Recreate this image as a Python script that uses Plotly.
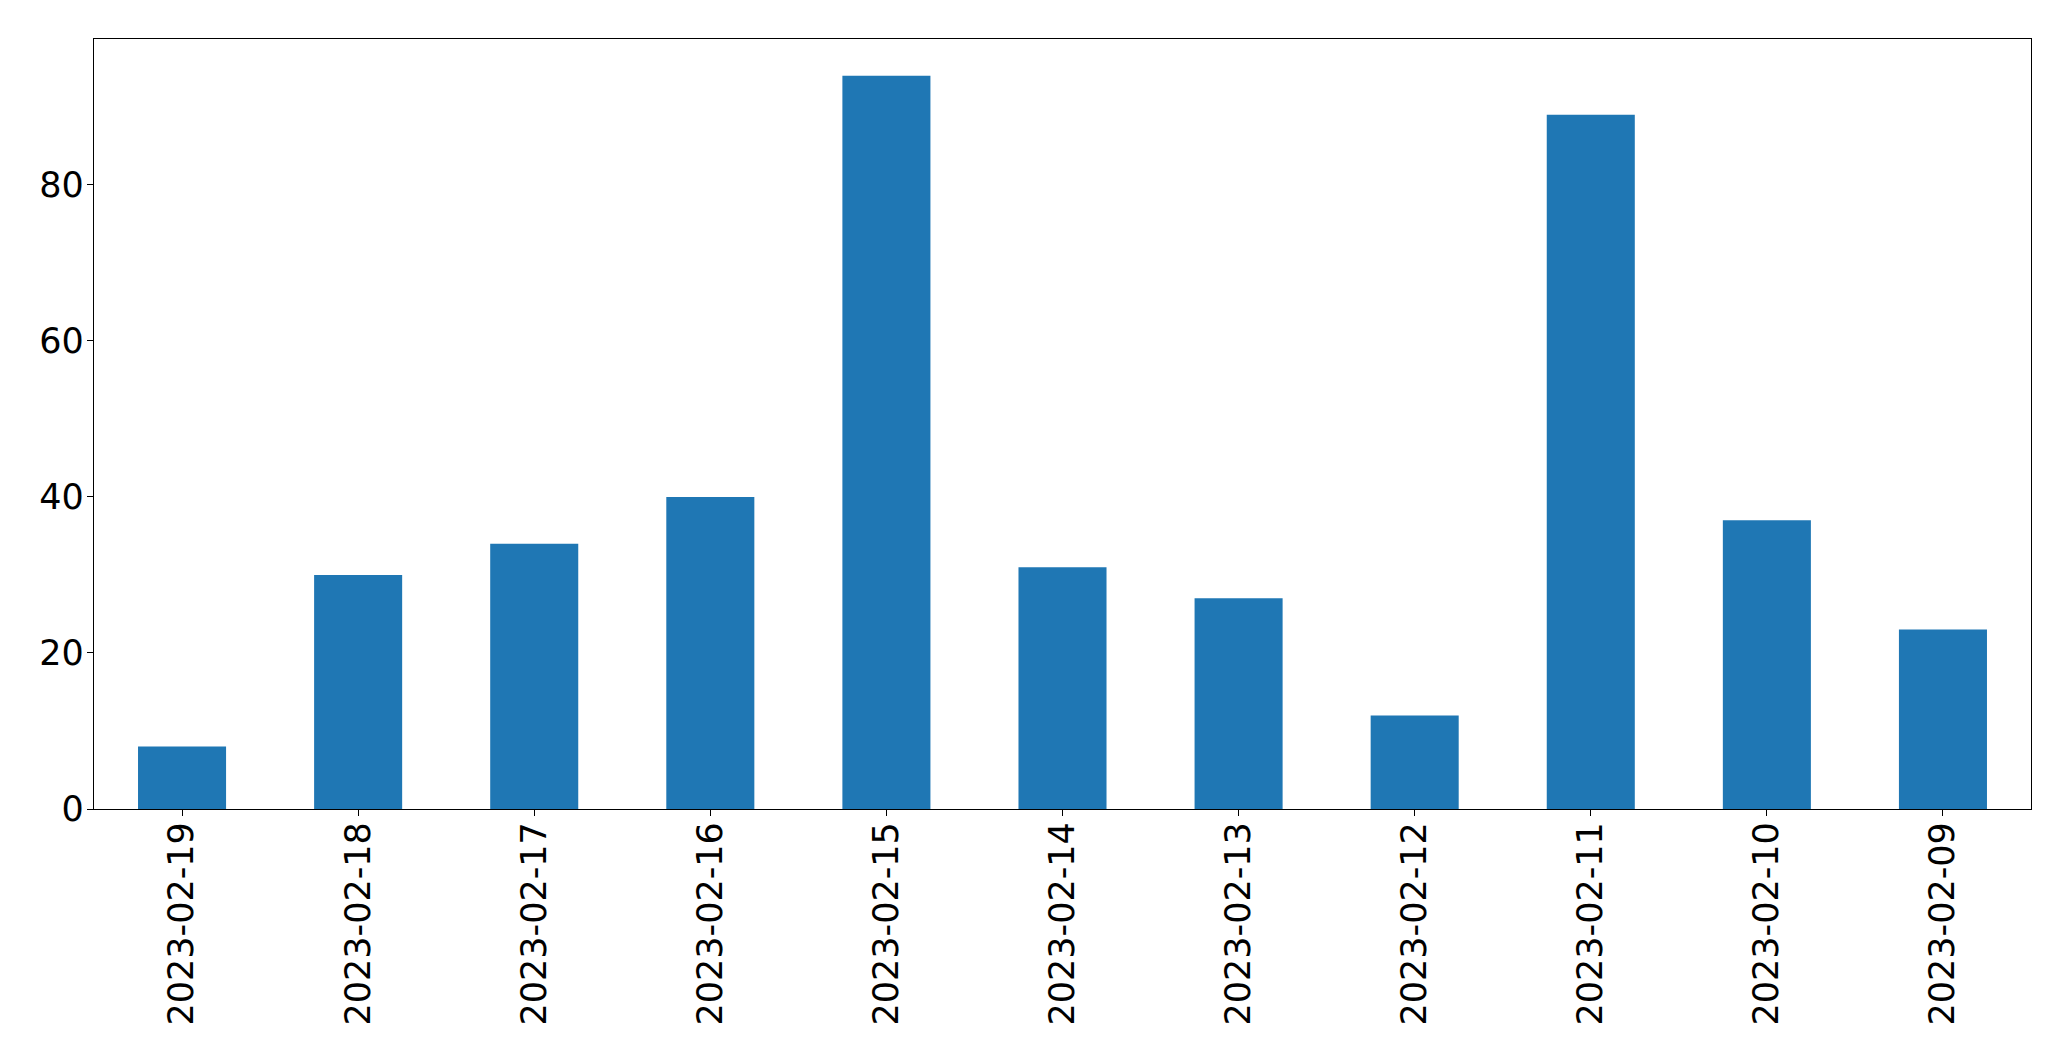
import plotly.graph_objects as go

dates = ["2023-02-19", "2023-02-18", "2023-02-17", "2023-02-16", "2023-02-15",
         "2023-02-14", "2023-02-13", "2023-02-12", "2023-02-11", "2023-02-10",
         "2023-02-09"]
values = [8, 30, 34, 40, 94, 31, 27, 12, 89, 37, 23]
y_ticks = [0, 20, 40, 60, 80]

fig = go.Figure(go.Bar(x=dates, y=values, width=0.5, marker_color="#1f77b4",
                       marker_line_width=0))

axis_common = dict(showline=True, mirror=True, linecolor="black", linewidth=1.3,
                   ticks="outside", ticklen=6, tickwidth=1.3, tickcolor="black",
                   showgrid=False, zeroline=False,
                   tickfont=dict(family="DejaVu Sans", size=35, color="black"))

fig.update_layout(
    width=2071, height=1061, autosize=False,
    margin=dict(l=86, r=48, t=31, b=260, pad=0),
    plot_bgcolor="white", paper_bgcolor="white",
    showlegend=False,
    xaxis=dict(type="category", range=[-0.5, len(dates) - 0.5], tickangle=-90,
               ticklabelstandoff=-8, **axis_common),
    yaxis=dict(range=[0, max(values) * 1.05], tickvals=y_ticks,
               ticklabelstandoff=-4, **axis_common),
)

fig.write_html("out.html")
